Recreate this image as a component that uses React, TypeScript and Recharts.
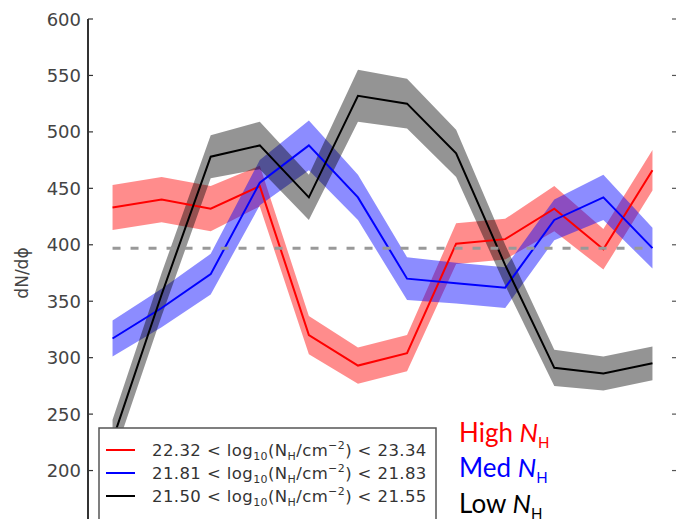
import React from "react";
import { Area, ComposedChart, Line, ReferenceLine, XAxis, YAxis } from "recharts";

// bin centres in phi (deg)
const PHI = [15, 45, 75, 105, 135, 165, 195, 225, 255, 285, 315, 345];

const HIGH = [433, 440, 432, 452, 320, 293, 304, 401, 405, 432, 396, 466];
const HIGH_ERR = [20, 20, 20, 18, 17, 16, 16, 18, 18, 20, 18, 18];
const MED = [317, 344, 374, 455, 488, 442, 370, 366, 362, 422, 442, 397];
const MED_ERR = [16, 17, 18, 20, 22, 20, 19, 18, 18, 18, 20, 18];
const LOW = [227, 356, 478, 488, 442, 532, 525, 481, 382, 291, 286, 295];
const LOW_ERR = [18, 19, 19, 21, 20, 23, 22, 21, 18, 16, 15, 15];

const MEAN_LEVEL = 397;

const X_TICKS = [0, 60, 120, 180, 240, 300, 360];
const Y_TICKS = [150, 200, 250, 300, 350, 400, 450, 500, 550, 600];

const LEGEND_LO = ["22.32", "21.81", "21.50"];
const LEGEND_HI = ["23.34", "21.83", "21.55"];
const GROUPS = ["High", "Med", "Low"];
const COLORS = ["#ff0000", "#0000ff", "#000000"];

const CHART_W = 690;
const MARGIN_RIGHT = 13;
const PLOT_RIGHT = CHART_W - MARGIN_RIGHT;

const rows = PHI.map((phi, i) => ({
  phi,
  high: HIGH[i],
  highBand: [HIGH[i] - HIGH_ERR[i], HIGH[i] + HIGH_ERR[i]],
  med: MED[i],
  medBand: [MED[i] - MED_ERR[i], MED[i] + MED_ERR[i]],
  low: LOW[i],
  lowBand: [LOW[i] - LOW_ERR[i], LOW[i] + LOW_ERR[i]],
}));

const SERIES = [
  { key: "high", band: "highBand", color: COLORS[0] },
  { key: "med", band: "medBand", color: COLORS[1] },
  { key: "low", band: "lowBand", color: COLORS[2] },
];

// left tick: inward mark + label; also mirrors the mark on the right spine
const LeftTick = ({ x, y, payload }: any) => (
  <g>
    <line x1={x} x2={x + 5} y1={y} y2={y} stroke="#333" strokeWidth={1.2} />
    <line x1={PLOT_RIGHT - 5} x2={PLOT_RIGHT} y1={y} y2={y} stroke="#555" strokeWidth={1.2} />
    <text
      x={x - 7}
      y={y}
      textAnchor="end"
      dominantBaseline="central"
      fontFamily="DejaVu Sans"
      fontSize={18}
      fill="#444"
    >
      {payload.value}
    </text>
  </g>
);

const TopTick = ({ x, y }: any) => (
  <line x1={x} x2={x} y1={y} y2={y + 5} stroke="#333" strokeWidth={1.2} />
);

const YLabel = ({ viewBox }: any) => {
  const cy = viewBox.y + viewBox.height / 2;
  return (
    <text
      x={22}
      y={cy}
      transform={`rotate(-90, 22, ${cy})`}
      textAnchor="middle"
      dominantBaseline="central"
      fontFamily="DejaVu Sans"
      fontSize={17}
      fill="#444"
    >
      dN/dϕ
    </text>
  );
};

function LegendBox() {
  const rowY = [450, 473, 496];
  return (
    <g>
      <rect x={99} y={428} width={337} height={110} fill="#fff" stroke="#555" strokeWidth={1.5} />
      {rowY.map((y, i) => (
        <g key={i}>
          <line x1={106} x2={135} y1={y} y2={y} stroke={COLORS[i]} strokeWidth={2} />
          <text
            x={152}
            y={y + 6}
            fontFamily="DejaVu Sans"
            fontSize={16.5}
            fill="#333"
            letterSpacing={0.4}
          >
            {LEGEND_LO[i]} &lt; log
            <tspan fontSize={11} dy={4}>10</tspan>
            <tspan dy={-4}>(N</tspan>
            <tspan fontSize={11} dy={4}>H</tspan>
            <tspan dy={-4}>/cm</tspan>
            <tspan fontSize={11} dy={-7}>−2</tspan>
            <tspan dy={7}>) &lt; {LEGEND_HI[i]}</tspan>
          </text>
        </g>
      ))}
    </g>
  );
}

function GroupLabels() {
  const baseY = [442, 477, 513];
  return (
    <g>
      {GROUPS.map((g, i) => (
        <text key={g} x={459} y={baseY[i]} fontFamily="Lato" fontSize={26} fill={COLORS[i]}>
          {g} <tspan fontStyle="italic">N</tspan>
          <tspan fontSize={15} dy={6}>H</tspan>
        </text>
      ))}
    </g>
  );
}

export default function App() {
  return (
    <div
      style={{
        position: "absolute",
        left: 0,
        top: 0,
        width: 676,
        height: 519,
        overflow: "hidden",
        background: "#fff",
      }}
    >
      <ComposedChart
        width={CHART_W}
        height={545}
        data={rows}
        margin={{ top: 19, right: MARGIN_RIGHT, left: 0, bottom: 18 }}
      >
        <XAxis
          dataKey="phi"
          type="number"
          orientation="top"
          domain={[0, 360]}
          ticks={X_TICKS}
          height={0}
          tickSize={0}
          tickMargin={0}
          tickLine={false}
          tick={<TopTick />}
          axisLine={{ stroke: "#333", strokeWidth: 2 }}
        />
        <YAxis
          type="number"
          domain={[150, 600]}
          ticks={Y_TICKS}
          width={88}
          tickSize={0}
          tickMargin={0}
          tickLine={false}
          tick={<LeftTick />}
          axisLine={{ stroke: "#333", strokeWidth: 2 }}
          label={<YLabel />}
          allowDataOverflow
        />
        {SERIES.map((s) => [
          <Area
            key={s.band}
            type="linear"
            dataKey={s.band}
            stroke="none"
            fill={s.color}
            fillOpacity={s.key === "low" ? 0.42 : 0.45}
            isAnimationActive={false}
            activeDot={false}
          />,
          <Line
            key={s.key}
            type="linear"
            dataKey={s.key}
            stroke={s.color}
            strokeWidth={2}
            dot={false}
            activeDot={false}
            isAnimationActive={false}
          />,
        ])}
        <ReferenceLine
          segment={[
            { x: PHI[0], y: MEAN_LEVEL },
            { x: PHI[PHI.length - 1], y: MEAN_LEVEL },
          ]}
          stroke="#999"
          strokeWidth={3}
          strokeDasharray="8 10"
        />
      </ComposedChart>
      <svg
        width={676}
        height={519}
        style={{ position: "absolute", left: 0, top: 0, pointerEvents: "none" }}
      >
        <LegendBox />
        <GroupLabels />
      </svg>
    </div>
  );
}
